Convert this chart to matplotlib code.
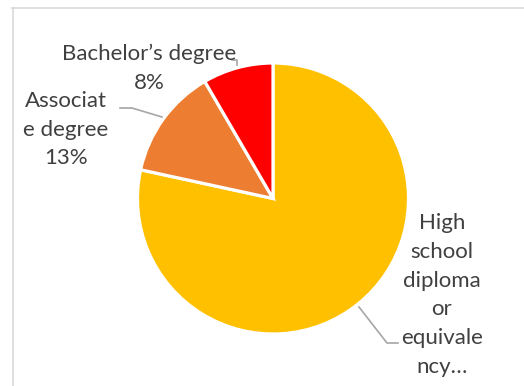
import matplotlib
matplotlib.use("Agg")
import matplotlib.pyplot as plt
from matplotlib.lines import Line2D

categories = ["High school diploma or equivalency", "Associate degree", "Bachelor\u2019s degree"]
values = [78.4, 13.2, 8.4]
colors = ["#FFC000", "#ED7D31", "#FF0000"]
label_texts = ["High\nschool\ndiploma\nor\nequivale\nncy\u2026",
               "Associat\ne degree\n13%",
               "Bachelor\u2019s degree\n8%"]

W, H = 524, 386
fig = plt.figure(figsize=(W / 100, H / 100), dpi=100)
fig.patch.set_facecolor("white")

def fx(x):
    return x / W

def fy(y):
    return 1 - y / H

# pie axes
cx, cy, r = 273, 198.5, 135.5
ax = fig.add_axes([fx(cx - r), fy(cy + r), 2 * r / W, 2 * r / H])
ax.pie(values, colors=colors, startangle=90, counterclock=False,
       wedgeprops=dict(edgecolor="white", linewidth=2.3, joinstyle="miter"))
ax.set_xlim(-1, 1)
ax.set_ylim(-1, 1)
ax.set_aspect("auto")
ax.axis("off")

# frame border (cropped)
fig.add_artist(Line2D([fx(12.5), fx(12.5)], [fy(8), fy(400)], color="#d9d9d9", lw=1.2))
fig.add_artist(Line2D([fx(12), fx(530)], [fy(8), fy(8)], color="#d9d9d9", lw=1.2))

font = dict(family=["Lato", "DejaVu Sans"], fontsize=16, color="#404040",
            linespacing=1.55, ha="center", va="center", multialignment="center")

fig.text(fx(442), fy(295), label_texts[0], **font)
fig.text(fx(66), fy(129.5), label_texts[1], **font)
fig.text(fx(149), fy(68), label_texts[2], **font)

lc = dict(color="#a6a6a6", lw=1.2)
fig.add_artist(Line2D([fx(232), fx(237), fx(237)], [fy(60), fy(60), fy(65)], **lc))
fig.add_artist(Line2D([fx(120), fx(132), fx(162)], [fy(108), fy(108), fy(117)], **lc))
fig.add_artist(Line2D([fx(359), fx(387), fx(398)], [fy(307), fy(343), fy(343)], **lc))

fig.savefig("out.png", dpi=100)
